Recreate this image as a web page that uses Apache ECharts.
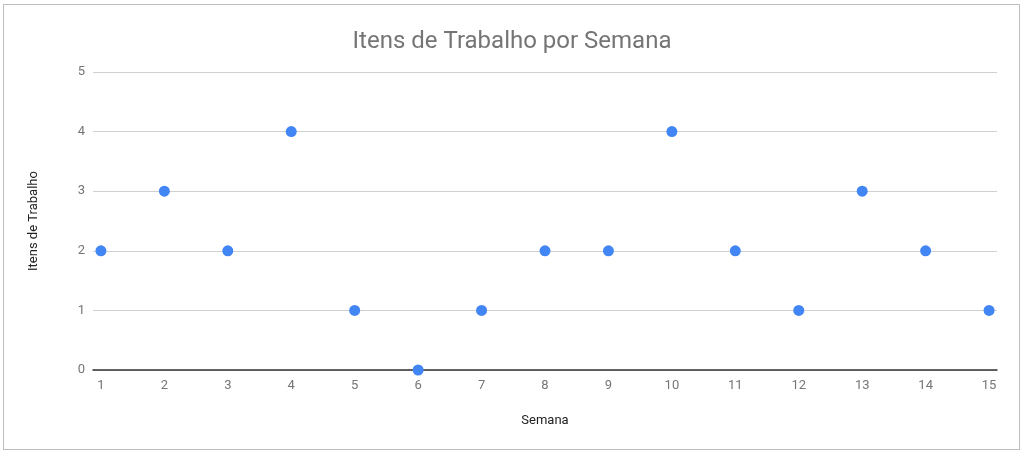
<!DOCTYPE html>
<html lang="pt">
<head>
    <meta charset="utf-8">
    <title>Itens de Trabalho por Semana</title>
    <style>
        html, body {
            height: 100%;
            width: 100%;
            padding: 0;
            margin: 0;
            background: #fff;
        }
        #frame {
            position: absolute;
            left: 3px;
            top: 4px;
            width: 1015px;
            height: 444px;
            border: 1px solid #bdbdbd;
        }
        #chart {
            position: absolute;
            left: 0;
            top: 0;
            width: 1024px;
            height: 453px;
        }
    </style>
</head>
<body>
    <div id="frame"></div>
    <div id="chart"></div>
    <script src="https://cdn.jsdelivr.net/npm/echarts@6/dist/echarts.min.js"></script>
    <script>
        // semanas e itens de trabalho
        const semanas = [1, 2, 3, 4, 5, 6, 7, 8, 9, 10, 11, 12, 13, 14, 15];
        const itens = [2, 3, 2, 4, 1, 0, 1, 2, 2, 4, 2, 1, 3, 2, 1];
        const yTicks = [0, 1, 2, 3, 4, 5];

        const pontos = semanas.map((s, i) => [s, itens[i]]);

        let myChart = echarts.init(document.getElementById('chart'));
        myChart.setOption({
            animation: false,
            title: {
                text: 'Itens de Trabalho por Semana',
                left: 'center',
                top: 25,
                textStyle: {
                    fontFamily: 'Roboto',
                    fontSize: 24,
                    fontWeight: 'normal',
                    color: '#757575'
                }
            },
            grid: { left: 93, right: 27, top: 72, bottom: 83 },
            xAxis: {
                type: 'value',
                min: 0.875,
                max: 15.125,
                name: 'Semana',
                nameLocation: 'middle',
                nameGap: 44,
                nameTextStyle: { fontFamily: 'Roboto', fontSize: 13, color: '#222' },
                axisLine: { show: true, lineStyle: { color: '#333', width: 1.5 } },
                axisTick: { show: false },
                splitLine: { show: false },
                axisLabel: {
                    customValues: semanas,
                    fontFamily: 'Roboto',
                    fontSize: 13,
                    color: '#757575',
                    margin: 9
                }
            },
            yAxis: {
                type: 'value',
                min: 0,
                max: 5,
                interval: 1,
                name: 'Itens de Trabalho',
                nameLocation: 'middle',
                nameGap: 53,
                nameTextStyle: { fontFamily: 'Roboto', fontSize: 13, color: '#222' },
                axisLine: { show: false },
                axisTick: { show: false },
                splitLine: { lineStyle: { color: '#d0d0d0', width: 1 } },
                axisLabel: {
                    customValues: yTicks,
                    fontFamily: 'Roboto',
                    fontSize: 13,
                    color: '#757575',
                    margin: 8
                }
            },
            series: [{
                type: 'scatter',
                data: pontos,
                symbolSize: 11,
                itemStyle: { color: '#4285f4', opacity: 1 },
                z: 5
            }]
        });
    </script>
</body>
</html>
